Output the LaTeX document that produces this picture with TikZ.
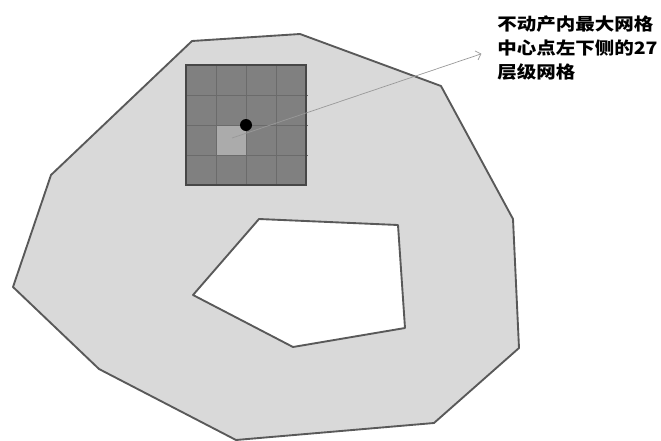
\documentclass[tikz,border=0pt]{standalone}
\usepackage{fontspec}
\newfontfamily\cjk{Noto Sans CJK SC}
\usetikzlibrary{arrows.meta}

\begin{document}
\begin{tikzpicture}[x=0.03cm,y=-0.03cm,
      parcel/.style={draw=black!65,line width=1.6pt,fill=black!15,line join=round},
      hole/.style={draw=black!65,line width=1.6pt,fill=white,line join=round},
      cellline/.style={draw=black!58,line width=0.7pt},
      dot/.style={circle,fill=black,inner sep=0pt,minimum size=0.36cm},
      note/.style={font=\cjk\bfseries\fontsize{14.6}{20.5}\selectfont,align=left,inner sep=0pt,xscale=1.14}]
      \useasboundingbox (0,0) rectangle (661,441);
      % land parcel with its hole
      \draw[parcel] (192,41) -- (300,34) -- (441,86) -- (513,219) -- (519,348) -- (434,423)
            -- (236,440) -- (99,369) -- (13,287) -- (51,175) -- cycle;
      \draw[hole] (259,219) -- (398,225) -- (405,328) -- (293,347) -- (193,295) -- cycle;
      % 4x4 grid, level 27 cell
      \fill[black!50] (186,65) rectangle (306,185);
      \fill[black!33] (216,125) rectangle (246,155);
      \foreach \i in {1,2,3} {
        \draw[cellline] (186+30*\i,65) -- (186+30*\i,185);
        \draw[cellline] (186,65+30*\i) -- (308,65+30*\i);
      }
      \draw[black!72,line width=1.2pt] (186,65) rectangle (306,185);
      \node[dot] (ctr) at (246,125) {};
      \coordinate (tail) at (232,138);
      \node[note,anchor=north west] (lbl) at (497,16) {不动产内最大网格\\中心点左下侧的27\\层级网格};
      \draw[-{Straight Barb[length=4pt]},black!40,line width=0.6pt,shorten >=14pt] (tail) -- (lbl.west);
\end{tikzpicture}
\end{document}
